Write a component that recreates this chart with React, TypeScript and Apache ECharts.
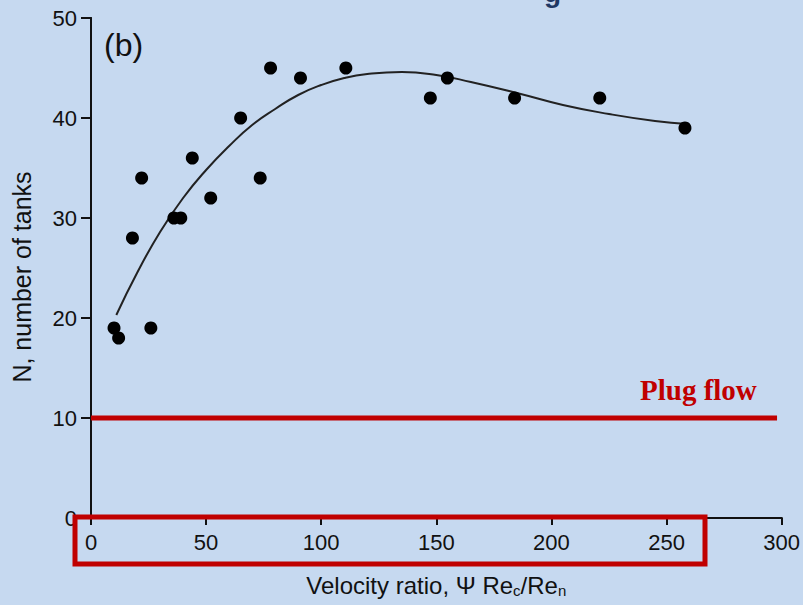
import React, { useEffect, useRef } from "react";
import * as echarts from "echarts";

const scatterX = [10, 12, 18, 22, 26, 36, 39, 44, 52, 65, 73.5, 78, 91, 110.7, 147.4, 154.8, 184, 221, 258];
const scatterY = [19, 18, 28, 34, 19, 30, 30, 36, 32, 40, 34, 45, 44, 45, 42, 44, 42, 42, 39];

const curveX = [11, 20, 30, 40, 50, 60, 70, 80, 90, 100, 110, 120, 135, 150, 165, 185, 205, 225, 245, 259];
const curveY = [20.3, 24.5, 28.6, 32, 34.8, 37.2, 39.3, 40.9, 42.3, 43.3, 44, 44.4, 44.6, 44.3, 43.6, 42.5, 41.3, 40.4, 39.7, 39.4];

const plugX = [0, 298];
const plugY = [10, 10];

const xTicks = [0, 50, 100, 150, 200, 250, 300];
const yTicks = [0, 10, 20, 30, 40, 50];

export default function App() {
  const ref = useRef<HTMLDivElement>(null);
  useEffect(() => {
    if (!ref.current) return;
    const chart = echarts.init(ref.current, undefined, { renderer: "svg" });
    const font = "'Liberation Sans', Arial, sans-serif";
    const axisLine = { show: true, lineStyle: { color: "#111", width: 2 } };
    chart.setOption({
      animation: false,
      backgroundColor: "#c6d9f0",
      grid: { left: 91, right: 13, top: 18, bottom: 87, containLabel: false },
      xAxis: [
        {
          type: "value",
          min: xTicks[0],
          max: xTicks[xTicks.length - 1],
          interval: 50,
          axisLine,
          axisTick: { show: true, inside: false, length: 7, lineStyle: { color: "#111", width: 2 } },
          splitLine: { show: false },
          axisLabel: { color: "#111", fontSize: 22, fontFamily: font, margin: 13 },
          name: "Velocity ratio, Ψ Re{sub|c}/Re{sub|n}",
          nameLocation: "middle",
          nameGap: 55,
          nameTextStyle: {
            color: "#111",
            fontSize: 24,
            fontFamily: font,
            rich: { sub: { fontSize: 15, fontFamily: font, color: "#111", verticalAlign: "bottom", padding: [10, 0, 0, 0] } },
          },
        },
        {
          type: "value",
          position: "top",
          min: xTicks[0],
          max: xTicks[xTicks.length - 1],
          interval: 50,
          axisLine,
          axisTick: { show: false },
          axisLabel: { show: false },
          splitLine: { show: false },
        },
      ],
      yAxis: [
        {
          type: "value",
          min: yTicks[0],
          max: yTicks[yTicks.length - 1],
          interval: 10,
          axisLine,
          axisTick: { show: true, inside: false, length: 10, lineStyle: { color: "#111", width: 2 } },
          splitLine: { show: false },
          axisLabel: { color: "#111", fontSize: 22, fontFamily: font, margin: 14 },
          name: "N, number of tanks",
          nameLocation: "middle",
          nameGap: 57,
          nameRotate: 90,
          nameTextStyle: { color: "#111", fontSize: 25, fontFamily: font, padding: [0, 0, 0, -18] },
        },
        {
          type: "value",
          position: "right",
          min: yTicks[0],
          max: yTicks[yTicks.length - 1],
          interval: 10,
          axisLine,
          axisTick: { show: false },
          axisLabel: { show: false },
          splitLine: { show: false },
        },
      ],
      series: [
        {
          type: "line",
          data: plugX.map((x, i) => [x, plugY[i]]),
          symbol: "none",
          lineStyle: { color: "#c00000", width: 5 },
          z: 2,
        },
        {
          type: "line",
          data: curveX.map((x, i) => [x, curveY[i]]),
          smooth: true,
          symbol: "none",
          lineStyle: { color: "#222", width: 2 },
          z: 3,
        },
        {
          type: "scatter",
          data: scatterX.map((x, i) => [x, scatterY[i]]),
          symbol: "circle",
          symbolSize: 13,
          itemStyle: { color: "#000", opacity: 1 },
          z: 4,
        },
      ],
      graphic: [
        {
          type: "text",
          x: 104,
          y: 29,
          style: { text: "(b)", fontSize: 32, fontFamily: font, fill: "#111" },
        },
        {
          type: "text",
          x: 640,
          y: 375,
          style: { text: "Plug flow", fontSize: 29, fontWeight: "bold", fontFamily: "'Liberation Serif', 'Times New Roman', serif", fill: "#c00000" },
        },
        {
          type: "rect",
          shape: { x: 75, y: 517, width: 630, height: 47 },
          style: { fill: "none", stroke: "#c00000", lineWidth: 5 },
          z: 10,
        },
        {
          type: "text",
          x: 544,
          y: -22,
          style: { text: "g", fontSize: 28, fontWeight: "bold", fontFamily: font, fill: "#1f3864" },
        },
      ],
    });
    return () => chart.dispose();
  }, []);
  return <div ref={ref} style={{ position: "fixed", left: 0, top: 0, width: 803, height: 605 }} />;
}
